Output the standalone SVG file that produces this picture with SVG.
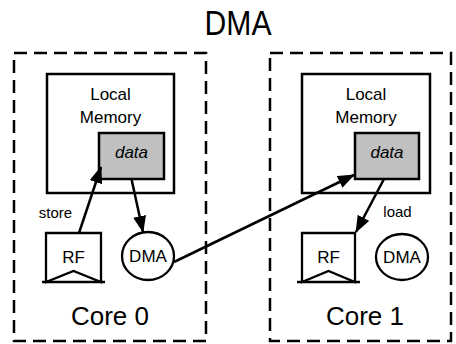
<svg xmlns="http://www.w3.org/2000/svg" width="456" height="344" viewBox="0 0 456 344">
  <style>
    text { font-family: "Liberation Sans", Arial, sans-serif; fill: #000; text-anchor: middle; }
    .core { fill: none; stroke: #000; stroke-width: 2.5; stroke-dasharray: 13 7; }
    .box { fill: #fff; stroke: #000; stroke-width: 2.5; }
    .data { fill: #c0c0c0; stroke: #000; stroke-width: 2.5; }
    .shape { fill: #fff; stroke: #000; stroke-width: 2.3; }
    .lbl { font-size: 17px; }
    .small { font-size: 15px; }
    .big { font-size: 26px; }
    .edge { fill: none; stroke: #000; stroke-width: 2.5; marker-end: url(#arrow); }
  </style>
  <defs>
    <marker id="arrow" markerWidth="17" markerHeight="13" refX="16" refY="6.5" orient="auto" markerUnits="userSpaceOnUse">
      <path d="M0,0 L17,6.5 L0,13 Z" fill="#000"/>
    </marker>
  </defs>

  <text x="238" y="35" style="font-size:35px" textLength="67" lengthAdjust="spacingAndGlyphs">DMA</text>

  <!-- Core 0 -->
  <g id="core0">
    <rect class="core" x="14" y="53" width="192" height="288"/>
    <text class="big" x="110" y="325">Core 0</text>
  </g>
  <g id="mem0">
    <rect class="box" x="47" y="74" width="127" height="119"/>
    <text class="lbl" x="110.5" y="100">Local</text>
    <text class="lbl" x="110.5" y="123">Memory</text>
  </g>
  <g id="data0">
    <rect class="data" x="99" y="133" width="65" height="46"/>
    <text class="lbl" x="131.5" y="158" font-style="italic">data</text>
  </g>
  <g id="rf0">
    <path class="shape" d="M46,233 H101 V282 L73.5,271 L46,282 Z"/>
    <line x1="42" y1="282" x2="105" y2="282" stroke="#000" stroke-width="2.3"/>
    <text class="lbl" x="73.5" y="263">RF</text>
  </g>
  <g id="dma0">
    <ellipse class="shape" cx="148" cy="256" rx="26" ry="24"/>
    <text class="lbl" x="148" y="262">DMA</text>
  </g>

  <!-- Core 1 -->
  <g id="core1">
    <rect class="core" x="270" y="53" width="181" height="288"/>
    <text class="big" x="365" y="325">Core 1</text>
  </g>
  <g id="mem1">
    <rect class="box" x="302" y="74" width="128" height="119"/>
    <text class="lbl" x="366" y="100">Local</text>
    <text class="lbl" x="366" y="123">Memory</text>
  </g>
  <g id="data1">
    <rect class="data" x="355" y="133" width="64" height="46"/>
    <text class="lbl" x="387" y="158" font-style="italic">data</text>
  </g>
  <g id="rf1">
    <path class="shape" d="M302,233 H355 V282 L328.5,271 L302,282 Z"/>
    <line x1="297" y1="282" x2="360" y2="282" stroke="#000" stroke-width="2.3"/>
    <text class="lbl" x="328.5" y="263">RF</text>
  </g>
  <g id="dma1">
    <ellipse class="shape" cx="402" cy="257" rx="26" ry="23"/>
    <text class="lbl" x="402" y="263">DMA</text>
  </g>

  <!-- connectors -->
  <g id="connectors">
    <line class="edge" x1="79" y1="233" x2="101" y2="167"/>
    <text class="small" x="55.5" y="218">store</text>
    <line class="edge" x1="131.5" y1="179" x2="143" y2="232"/>
    <line class="edge" x1="174" y1="262" x2="354" y2="175"/>
    <line class="edge" x1="384" y1="179" x2="356" y2="232"/>
    <text class="small" x="397.5" y="217">load</text>
  </g>
</svg>
